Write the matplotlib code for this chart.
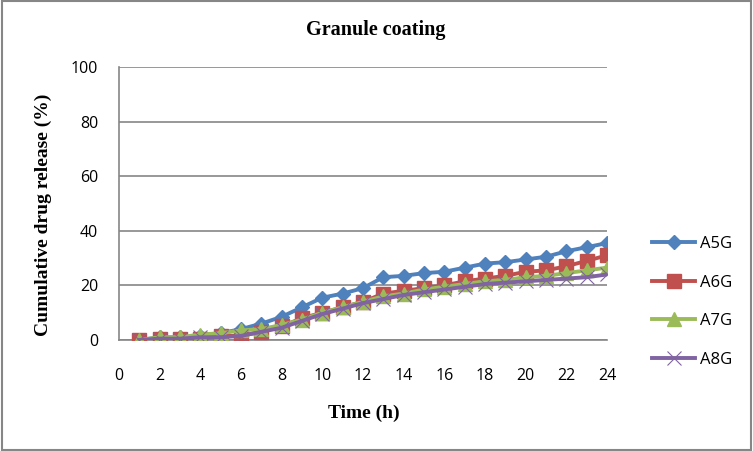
import matplotlib
matplotlib.use("Agg")
import matplotlib.pyplot as plt
from matplotlib.patches import Rectangle

time_h = list(range(1, 25))
a5g = [0, 1, 1, 1.5, 2.5, 4, 6, 8.5, 12, 15.5, 17, 19, 23, 23.5, 24.5, 25, 26.5, 28, 28.5, 29.5, 30.5, 32.5, 34, 35.5]
a6g = [0, 0.5, 0.5, 0.5, 1.5, 1.5, 3, 5, 8, 10, 12, 14, 17, 18, 19, 20, 21.5, 22.5, 23.5, 25, 25.5, 27, 29, 31]
a7g = [0, 1, 1, 2, 2.5, 3.5, 4, 5.5, 7.5, 10, 12, 14, 16, 17, 18.5, 19.5, 20.5, 21.5, 22, 23, 23.5, 24.5, 25.5, 26.5]
a8g = [0, 0.5, 0.5, 1, 1, 1.5, 3, 4.5, 7, 9.5, 11.5, 13.5, 15, 16.5, 17.5, 18.5, 19.5, 20.5, 21, 21.5, 22, 22.5, 23, 24]
series_names = ["A5G", "A6G", "A7G", "A8G"]
x_ticks = list(range(0, 25, 2))
y_ticks = list(range(0, 101, 20))

fig = plt.figure(figsize=(7.53, 4.51), dpi=100)
ax = fig.add_axes([119/753, 1-340/451, (607-119)/753, (340-67)/451])

ax.plot(time_h, a5g, color="#4F81BD", lw=2.8, marker="D", ms=7, mec="#4F81BD", label=series_names[0], zorder=3)
ax.plot(time_h, a6g, color="#C0504D", lw=2.8, marker="s", ms=10, mec="#C0504D", label=series_names[1], zorder=4)
ax.plot(time_h, a7g, color="#9BBB59", lw=2.8, marker="^", ms=10, mec="#9BBB59", label=series_names[2], zorder=5)
ax.plot(time_h, a8g, color="#8064A2", lw=2.8, marker="x", ms=10, mew=0.8, mec="#8064A2", label=series_names[3], zorder=6)

ax.set_xlim(0, 24)
ax.set_ylim(0, 100)
ax.set_xticks(x_ticks)
ax.set_yticks(y_ticks)
ax.tick_params(axis="both", length=0, labelsize=11.5, colors="black")
ax.tick_params(axis="y", pad=15)
ax.tick_params(axis="x", pad=20)
for lab in ax.get_xticklabels() + ax.get_yticklabels():
    lab.set_family("Open Sans")
ax.yaxis.grid(True, color="#868686", lw=1.2)
ax.set_axisbelow(True)
for s in ["top", "right"]:
    ax.spines[s].set_visible(False)
for s in ["left", "bottom"]:
    ax.spines[s].set_color("#868686")
    ax.spines[s].set_linewidth(1.2)

fig.text(376/753, 1-30/451, "Granule coating", ha="center", va="center",
         family="Liberation Serif", fontweight="bold", fontsize=14.5)
fig.text(364/753, 1-413/451, "Time (h)", ha="center", va="center",
         family="Liberation Serif", fontweight="bold", fontsize=14)
fig.text(43/753, 1-215/451, "Cumulative drug release (%)", ha="center", va="center",
         rotation=90, family="Liberation Serif", fontweight="bold", fontsize=14)

leg = fig.legend(loc="center left", bbox_to_anchor=(637/753, 1-302/451), frameon=False,
                 prop={"family": "Open Sans", "size": 12}, handlelength=2.6,
                 labelspacing=1.35, handletextpad=0.3)

fig.patches.append(Rectangle((0.002, 0.002), 0.996, 0.996, transform=fig.transFigure,
                             fill=False, edgecolor="#868686", lw=1.5))

fig.savefig("out.png", dpi=100)
